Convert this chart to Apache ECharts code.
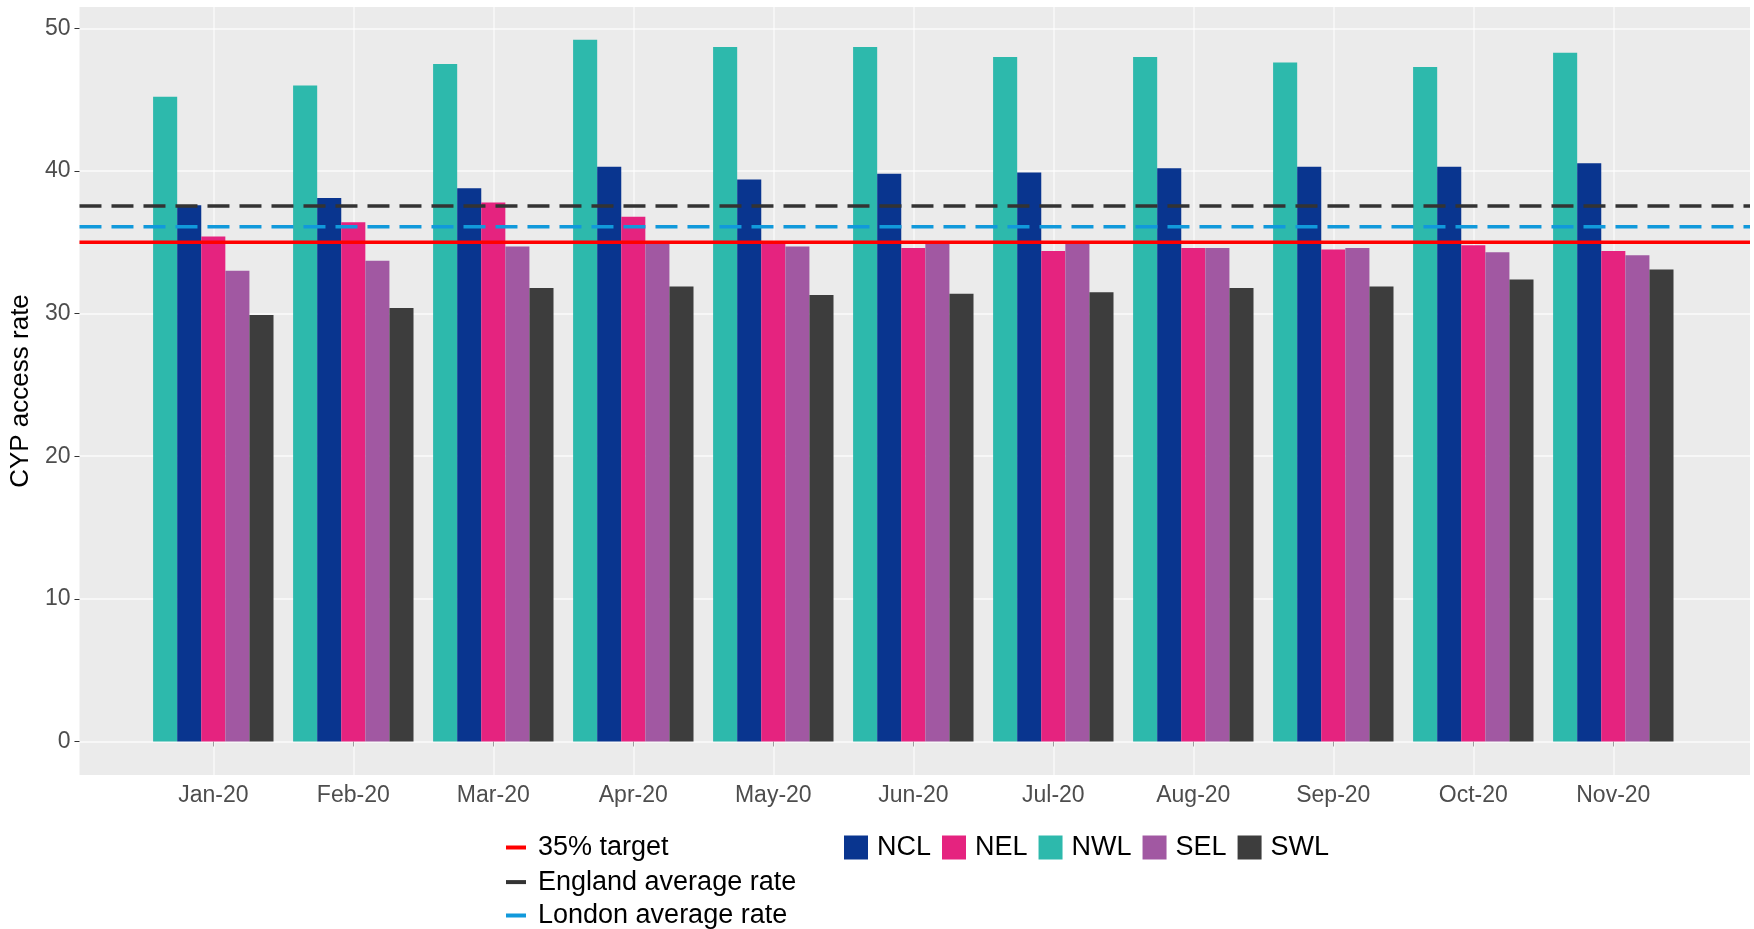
<!DOCTYPE html>
<html>
<head>
<meta charset="utf-8">
<script src="https://cdn.jsdelivr.net/npm/echarts@6/dist/echarts.min.js"></script>
<style>
  html, body { margin: 0; padding: 0; background: #ffffff; }
  #chart { width: 1754px; height: 929px; }
</style>
</head>
<body>
<div id="chart"></div>
<script>
// ---- Data ----
const categories = ['Jan-20', 'Feb-20', 'Mar-20', 'Apr-20', 'May-20', 'Jun-20', 'Jul-20', 'Aug-20', 'Sep-20', 'Oct-20', 'Nov-20'];
const NWL = [45.2, 46.0, 47.5, 49.2, 48.7, 48.7, 48.0, 48.0, 47.6, 47.3, 48.3];
const NCL = [37.6, 38.1, 38.8, 40.3, 39.4, 39.8, 39.9, 40.2, 40.3, 40.3, 40.55];
const NEL = [35.4, 36.4, 37.8, 36.8, 35.1, 34.6, 34.4, 34.6, 34.5, 34.8, 34.4];
const SEL = [33.0, 33.7, 34.7, 34.9, 34.7, 34.9, 34.9, 34.6, 34.6, 34.3, 34.1];
const SWL = [29.9, 30.4, 31.8, 31.9, 31.3, 31.4, 31.5, 31.8, 31.9, 32.4, 33.1];
const targetRate = 35;
const englandAverage = 37.55;
const londonAverage = 36.1;
const yTicks = [0, 10, 20, 30, 40, 50];
const legendOrder = ['NCL', 'NEL', 'NWL', 'SEL', 'SWL'];
const lineLegendOrder = ['35% target', 'England average rate', 'London average rate'];

// ---- Styling ----
const FONT = '"Liberation Sans", Arial, Helvetica, sans-serif';
const colors = { NWL: '#2DB9AC', NCL: '#09358F', NEL: '#E5237F', SEL: '#A158A2', SWL: '#3D3D3D' };
const Y_MIN = -2.35, Y_MAX = 51.5;
const PANEL = { left: 77, top: 7, width: 1673, height: 768 };
const BARS = { left: 143.3, top: 7, width: 1540, height: 768 };

const chart = echarts.init(document.getElementById('chart'), null, { renderer: 'canvas' });

const barSeries = [['NWL', NWL], ['NCL', NCL], ['NEL', NEL], ['SEL', SEL], ['SWL', SWL]].map(([name, values]) => ({
  name: name,
  type: 'bar',
  xAxisIndex: 1,
  yAxisIndex: 1,
  data: values,
  barGap: '0%',
  barCategoryGap: '14%',
  z: 2,
  itemStyle: { color: colors[name] },
  emphasis: { disabled: true }
}));

// helper series carrying the vertical (category) gridlines, drawn behind the bars
const gridHelper = {
  name: '_vgrid',
  type: 'line',
  xAxisIndex: 1,
  yAxisIndex: 1,
  data: [],
  silent: true,
  z: 1,
  markLine: {
    silent: true,
    symbol: 'none',
    z: 1,
    animation: false,
    label: { show: false },
    lineStyle: { color: 'rgba(255,255,255,0.7)', width: 1.5, type: 'solid' },
    data: categories.map(c => ({ xAxis: c }))
  }
};

function refLine(name, value, color, dashed) {
  return {
    name: name,
    type: 'line',
    xAxisIndex: 0,
    yAxisIndex: 0,
    data: [[0, value], [1, value]],
    symbol: 'none',
    z: 3,
    silent: true,
    itemStyle: { color: color },
    lineStyle: { color: color, width: 3.5, type: dashed ? [22, 10] : 'solid' },
    emphasis: { disabled: true }
  };
}

const legendText = { color: '#000000', fontSize: 27, fontFamily: FONT };
const lineLegendTops = [834, 868.6, 902];
const lineLegends = lineLegendOrder.map((name, i) => ({
  orient: 'vertical',
  left: 506, top: lineLegendTops[i],
  padding: 0,
  itemWidth: 20, itemHeight: 4,
  selectedMode: false,
  textStyle: Object.assign({ padding: [0, 0, 0, 7] }, legendText),
  data: [{ name: name, icon: 'rect' }]
}));

const option = {
  animation: false,
  backgroundColor: '#ffffff',
  textStyle: { fontFamily: FONT },
  grid: [
    { left: PANEL.left, top: PANEL.top, width: PANEL.width, height: PANEL.height,
      show: true, backgroundColor: '#EBEBEB', borderWidth: 0, z: 0 },
    { left: BARS.left, top: BARS.top, width: BARS.width, height: BARS.height, show: false }
  ],
  xAxis: [
    { type: 'value', gridIndex: 0, min: 0, max: 1, show: false },
    {
      type: 'category', gridIndex: 1, data: categories,
      axisLine: { show: false },
      axisTick: { show: true, alignWithLabel: true, length: 5, lineStyle: { color: '#333333', width: 1 } },
      axisLabel: { color: '#4D4D4D', fontSize: 23, fontFamily: FONT, margin: 9 },
      splitLine: { show: false }
    }
  ],
  yAxis: [
    {
      type: 'value', gridIndex: 0, min: Y_MIN, max: Y_MAX,
      name: 'CYP access rate', nameLocation: 'middle', nameGap: 29, nameRotate: 90,
      nameTextStyle: { color: '#000000', fontSize: 26, fontFamily: FONT },
      axisLine: { show: false },
      axisTick: { show: true, length: 5, customValues: yTicks, lineStyle: { color: '#333333', width: 1 } },
      axisLabel: { color: '#4D4D4D', fontSize: 23, fontFamily: FONT, margin: 9, customValues: yTicks },
      splitLine: { show: true, lineStyle: { color: 'rgba(255,255,255,0.8)', width: 1.5 } }
    },
    { type: 'value', gridIndex: 1, min: Y_MIN, max: Y_MAX, show: false, splitLine: { show: false } }
  ],
  legend: [
    ...lineLegends,
    {
      orient: 'horizontal',
      left: 844, top: 834,
      padding: 0,
      itemWidth: 24, itemHeight: 24, itemGap: 11,
      selectedMode: false,
      textStyle: Object.assign({ padding: [0, 0, 0, 4] }, legendText),
      data: legendOrder.map(n => ({ name: n, icon: 'rect' }))
    }
  ],
  series: [
    gridHelper,
    ...barSeries,
    refLine('35% target', targetRate, '#FF0000', false),
    refLine('England average rate', englandAverage, '#333333', true),
    refLine('London average rate', londonAverage, '#1199DB', true)
  ]
};

chart.setOption(option);
</script>
</body>
</html>
